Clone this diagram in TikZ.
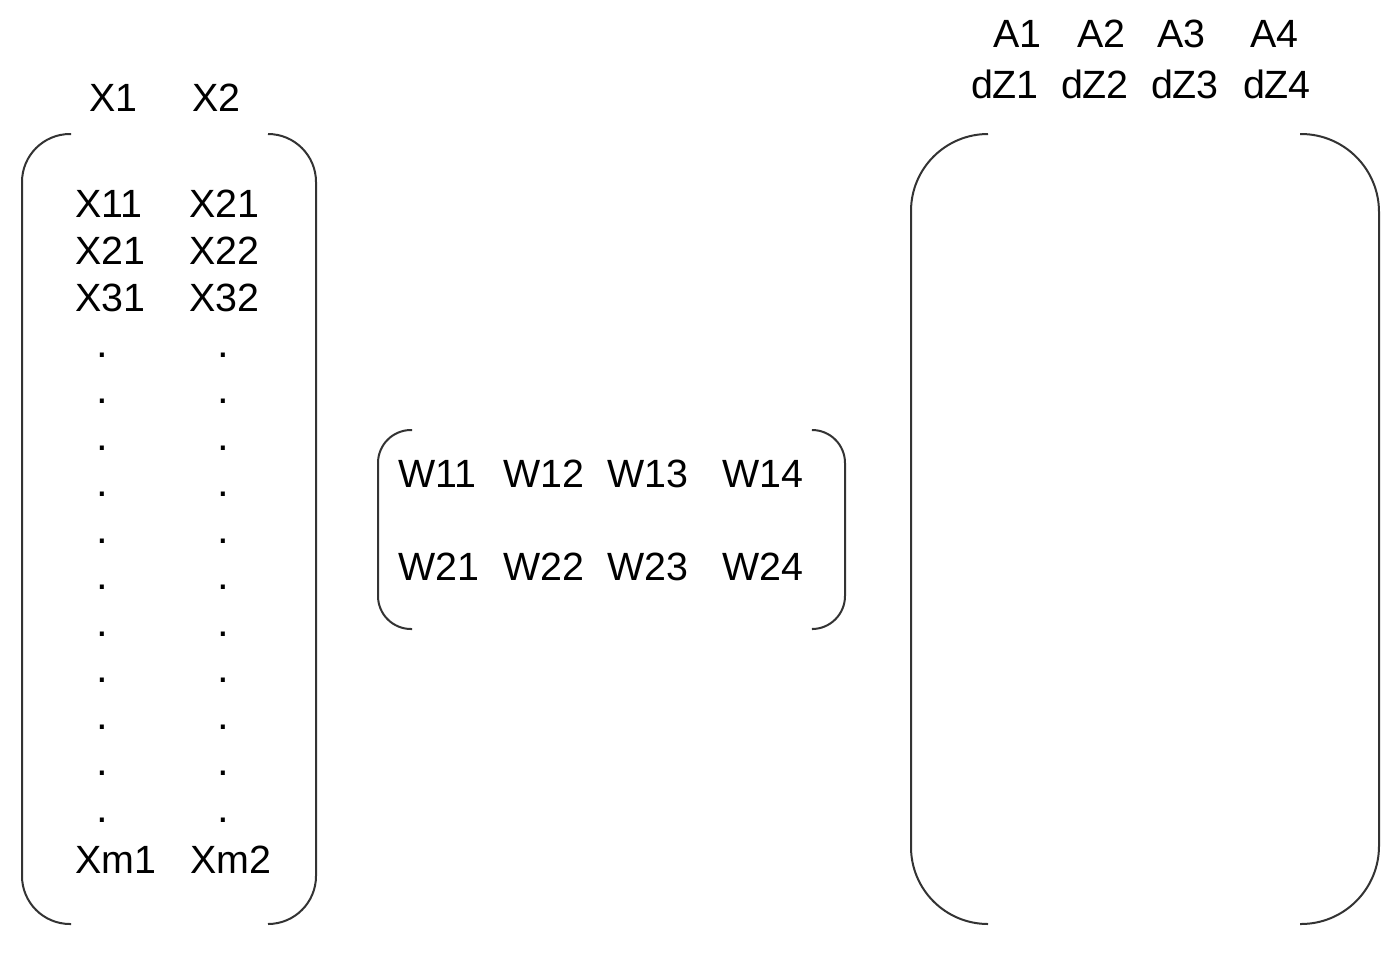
\documentclass[tikz,border=0pt]{standalone}
\usepackage{fontspec}
\setmainfont{Liberation Sans}
\definecolor{brk}{RGB}{51,51,51}
\begin{document}
\begin{tikzpicture}[x=1pt,y=-1pt,
  mtxt/.style={font=\fontsize{39.4}{47}\selectfont, inner sep=0pt, outer sep=0pt, anchor=base west},
  dotmark/.style={font=\fontsize{42}{48}\selectfont, inner sep=0pt, outer sep=0pt, anchor=base},
  bracket/.style={draw=brk, line width=2pt}]
\useasboundingbox (0,0) rectangle (1400,962);
% ---- X matrix ----
\node[mtxt] (x1) at (89,111) {X1};
\node[mtxt] (x2) at (192,111) {X2};
\node[mtxt] (x11) at (75,217) {X11};
\node[mtxt] (x21a) at (189,217) {X21};
\node[mtxt] (x21b) at (75,264) {X21};
\node[mtxt] (x22) at (189,264) {X22};
\node[mtxt] (x31) at (75,311) {X31};
\node[mtxt] (x32) at (189,311) {X32};
\foreach \i in {0,...,10} {
  \node[dotmark] (dl\i) at (102,357+46.5*\i) {.};
  \node[dotmark] (dr\i) at (223,357+46.5*\i) {.};
}
\node[mtxt] (xm1) at (75,873) {Xm1};
\node[mtxt] (xm2) at (190,873) {Xm2};
\draw[bracket, rounded corners=48pt] (71,134) -- (22,134) -- (22,924) -- (71,924);
\draw[bracket, rounded corners=48pt] (268,134) -- (316,134) -- (316,924) -- (268,924);
% ---- W matrix ----
\node[mtxt] (w11) at (398,487) {W11};
\node[mtxt] (w12) at (503,487) {W12};
\node[mtxt] (w13) at (607,487) {W13};
\node[mtxt] (w14) at (722,487) {W14};
\node[mtxt] (w21) at (398,580) {W21};
\node[mtxt] (w22) at (503,580) {W22};
\node[mtxt] (w23) at (607,580) {W23};
\node[mtxt] (w24) at (722,580) {W24};
\draw[bracket, rounded corners=33pt] (412,430) -- (378,430) -- (378,629) -- (412,629);
\draw[bracket, rounded corners=33pt] (813,430) -- (845,430) -- (845,629) -- (813,629);
% ---- A / dZ matrix ----
\node[mtxt] (a1) at (993,47) {A1};
\node[mtxt] (a2) at (1077,47) {A2};
\node[mtxt] (a3) at (1157,47) {A3};
\node[mtxt] (a4) at (1250,47) {A4};
\node[mtxt] (dz1) at (971,98) {dZ1};
\node[mtxt] (dz2) at (1061,98) {dZ2};
\node[mtxt] (dz3) at (1151,98) {dZ3};
\node[mtxt] (dz4) at (1243,98) {dZ4};
\draw[bracket, rounded corners=77pt] (988,134) -- (911,134) -- (911,924) -- (988,924);
\draw[bracket, rounded corners=78pt] (1300,134) -- (1379,134) -- (1379,924) -- (1300,924);
\end{tikzpicture}
\end{document}
